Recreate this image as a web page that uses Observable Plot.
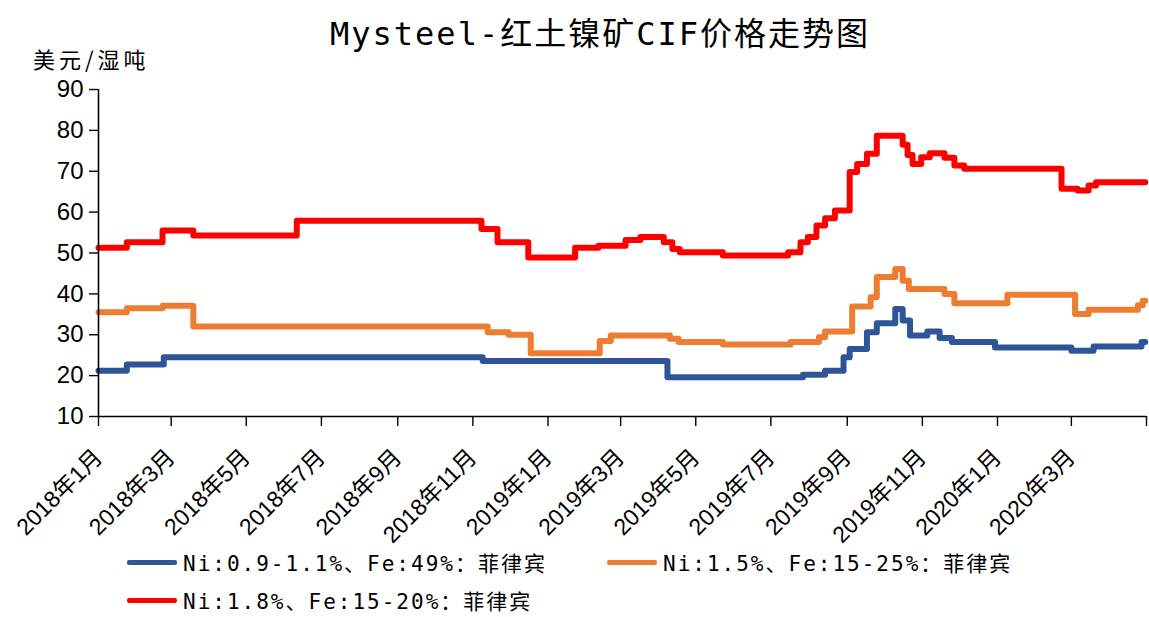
<!DOCTYPE html>
<html>
<head>
<meta charset="utf-8">
<script src="https://cdn.jsdelivr.net/npm/d3@7"></script>
<script src="https://cdn.jsdelivr.net/npm/@observablehq/plot@0.6"></script>
<style>
  html, body { margin: 0; padding: 0; background: #fff; }
  #wrap { position: relative; width: 1149px; height: 617px; overflow: hidden; background: #fff; }
  #title { position: absolute; left: 0; width: 1200px; top: 8px; text-align: center;
    font-family: "DejaVu Sans Mono", "Noto Sans CJK SC", sans-serif; font-size: 32px; letter-spacing: 2px; color: #000; }
  #unit { position: absolute; left: 33px; top: 42px; font-family: "Noto Sans CJK SC", sans-serif;
    font-size: 22px; letter-spacing: 4px; color: #000; }
  #chart { position: absolute; left: 0; top: 0; }
  .leg { position: absolute; display: flex; align-items: center; font-family: "DejaVu Sans Mono", "Noto Sans CJK SC", monospace;
    font-size: 21px; letter-spacing: 2px; color: #000; white-space: nowrap; }
  .sw { width: 50px; height: 5px; margin-right: 6px; border-radius: 2px; }
</style>
</head>
<body>
<div id="wrap">
  <div id="chart"></div>
  <div id="title">Mysteel-红土镍矿CIF价格走势图</div>
  <div id="unit">美元/湿吨</div>
  <div id="legend"></div>
</div>
<script>
// ---- data ----
const seriesNames = ["Ni:0.9-1.1%、Fe:49%：菲律宾", "Ni:1.5%、Fe:15-25%：菲律宾", "Ni:1.8%、Fe:15-20%：菲律宾"];
const seriesColors = ["#2E5597", "#ED7D31", "#FF0000"];

const blueDates = ["2018-01-01","2018-01-24","2018-02-23","2018-11-09","2019-04-08","2019-07-27","2019-08-14","2019-08-29","2019-09-03","2019-09-17","2019-09-25","2019-10-10","2019-10-16","2019-10-22","2019-11-05","2019-11-15","2019-11-25","2019-12-30","2020-03-01","2020-03-19","2020-04-27","2020-04-30"];
const blueValues = [21.2,22.7,24.5,23.6,19.6,20.2,21.2,24.5,26.5,30.6,32.8,36.3,33.5,29.8,30.8,29.2,28.2,26.9,26.1,27.1,28.2,28.2];

const orangeDates = ["2018-01-01","2018-01-24","2018-02-22","2018-03-19","2018-11-13","2018-11-30","2018-12-18","2019-02-12","2019-02-21","2019-04-10","2019-04-17","2019-05-23","2019-07-17","2019-08-09","2019-08-14","2019-09-05","2019-09-20","2019-09-25","2019-10-10","2019-10-16","2019-10-21","2019-11-19","2019-11-27","2020-01-09","2020-03-04","2020-03-15","2020-04-24","2020-04-28","2020-04-30"];
const orangeValues = [35.5,36.5,37.1,32.0,30.6,30.0,25.5,28.5,29.8,29.0,28.2,27.6,28.2,29.4,30.8,36.9,39.2,44.1,46.1,43.2,41.2,40.0,37.7,39.8,35.1,36.1,37.2,38.3,38.3];

const redDates = ["2018-01-01","2018-01-24","2018-02-22","2018-03-19","2018-06-11","2018-11-08","2018-11-21","2018-12-16","2019-01-23","2019-02-11","2019-03-05","2019-03-17","2019-04-05","2019-04-12","2019-04-18","2019-05-23","2019-07-15","2019-07-25","2019-07-31","2019-08-07","2019-08-14","2019-08-22","2019-09-03","2019-09-09","2019-09-17","2019-09-25","2019-10-16","2019-10-20","2019-10-24","2019-10-31","2019-11-07","2019-11-19","2019-11-27","2019-12-05","2020-02-22","2020-03-06","2020-03-15","2020-03-21","2020-04-30"];
const redValues = [51.3,52.6,55.5,54.3,57.9,55.9,52.6,48.9,51.3,51.8,53.2,53.9,52.6,51.0,50.2,49.4,50.2,52.6,53.9,56.7,58.5,60.4,69.8,71.8,74.3,78.7,76.5,74.0,71.8,73.4,74.4,73.3,71.4,70.6,65.7,65.3,66.5,67.3,67.3];

const tickDates = ["2018-01-01","2018-03-01","2018-05-01","2018-07-01","2018-09-01","2018-11-01","2019-01-01","2019-03-01","2019-05-01","2019-07-01","2019-09-01","2019-11-01","2020-01-01","2020-03-01"];
const yTicks = [10,20,30,40,50,60,70,80,90];

// ---- build table ----
const allDates = [blueDates, orangeDates, redDates];
const allValues = [blueValues, orangeValues, redValues];
const data = [];
allDates.forEach((ds, i) => ds.forEach((d, j) => data.push({series: seriesNames[i], date: new Date(d), value: allValues[i][j]})));

const xStart = new Date("2018-01-01"), xEnd = new Date("2020-05-01");
const fmt = d => `${d.getUTCFullYear()}年${d.getUTCMonth() + 1}月`;

const chart = Plot.plot({
  width: 1149, height: 545,
  marginLeft: 98, marginRight: 3, marginTop: 89, marginBottom: 129,
  style: {color: "#000", background: "transparent", overflow: "visible"},
  x: {type: "utc", domain: [xStart, xEnd]},
  y: {domain: [10, 90]},
  color: {domain: seriesNames, range: seriesColors},
  marks: [
    Plot.lineY(data, {x: "date", y: "value", z: "series", stroke: "series", curve: "step-after", strokeWidth: 6, strokeLinejoin: "round"}),
    Plot.ruleX([xStart], {y1: 10, y2: 90, stroke: "#000", strokeWidth: 1.6}),
    Plot.ruleY([10], {stroke: "#000", strokeWidth: 1.6}),
    Plot.axisY({ticks: yTicks, tickSize: 9, tickPadding: 6, label: null, fontSize: 24, fontFamily: "Liberation Sans, Arial, sans-serif", strokeWidth: 1.4}),
    Plot.axisX({ticks: tickDates.map(d => new Date(d)), tickFormat: fmt, tickRotate: -45, tickSize: 10, tickPadding: 27, label: null,
      fontSize: 23, fontFamily: "Liberation Sans, Noto Sans CJK SC, sans-serif", strokeWidth: 1.4}),
    Plot.axisX({ticks: [xEnd], tickFormat: () => "", tickSize: 10, label: null, strokeWidth: 1.4})
  ]
});
document.getElementById("chart").appendChild(chart);

// ---- legend ----
const legPos = [[127, 547], [607, 547], [127, 585]];
const legend = document.getElementById("legend");
seriesNames.forEach((name, i) => {
  const el = document.createElement("div");
  el.className = "leg";
  el.style.left = legPos[i][0] + "px";
  el.style.top = legPos[i][1] + "px";
  el.innerHTML = `<div class="sw" style="background:${seriesColors[i]}"></div><span>${name}</span>`;
  legend.appendChild(el);
});
</script>
</body>
</html>
